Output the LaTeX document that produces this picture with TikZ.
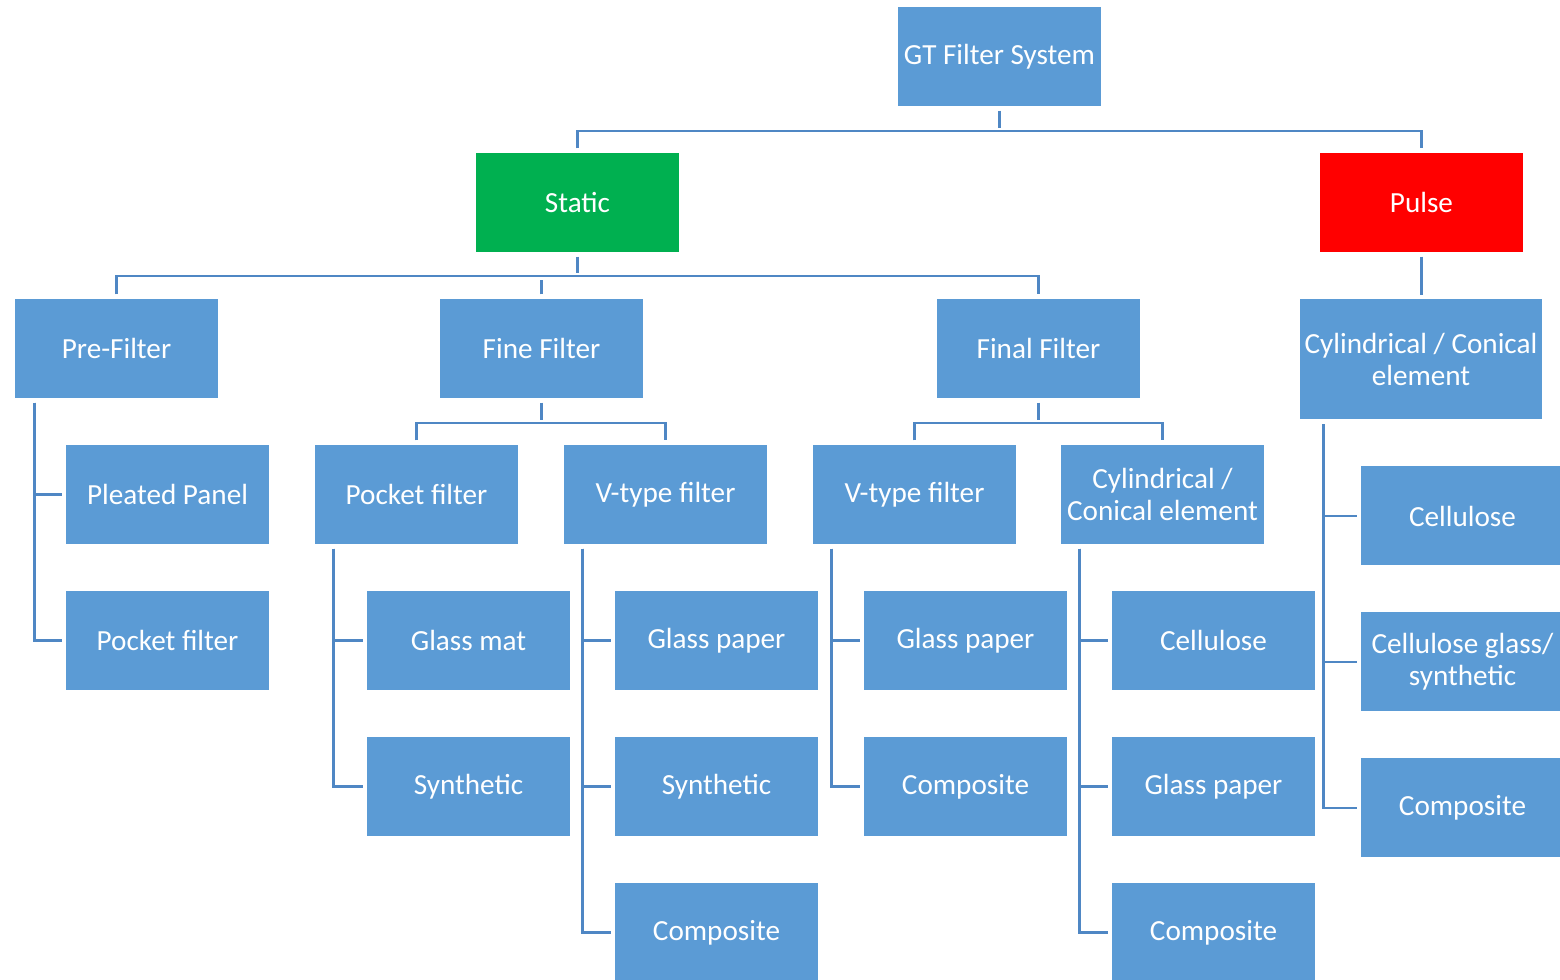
\documentclass[tikz,border=0pt]{standalone}
\usepackage{fontspec}
\setmainfont{Carlito}
\definecolor{boxblue}{HTML}{5B9BD5}
\definecolor{lineblue}{HTML}{4F87C4}
\definecolor{staticgreen}{HTML}{00B050}
\definecolor{pulsered}{HTML}{FF0000}
\begin{document}
\begin{tikzpicture}[x=0.01cm,y=-0.01cm,
  box/.style={fill=boxblue,draw=white,line width=0.3pt,text=white,minimum width=2.03cm,
    minimum height=1cm,align=center,inner sep=0pt,font=\fontsize{8.3}{9.2}\selectfont},
  link/.style={draw=lineblue,line width=0.022cm,shorten <=0.035cm,shorten >=0.035cm}]
  \useasboundingbox (0,0) rectangle (1560,980);
  % top levels
  \node[box] (gt) at (999.5,56.5) {GT Filter System};
  \node[box,fill=staticgreen] (static) at (577.5,202.5) {Static};
  \node[box,fill=pulsered] (pulse) at (1421.5,202.5) {Pulse};
  \node[box] (pre) at (116.5,348.5) {Pre-Filter};
  \node[box] (fine) at (541.5,348.5) {Fine Filter};
  \node[box] (final) at (1038.5,348.5) {Final Filter};
  \node[box,minimum width=2.42cm,minimum height=1.21cm] (cylP) at (1421,359.5) {Cylindrical / Conical\\element};
  % filter types
  \node[box] (pleated) at (167.5,494.5) {Pleated Panel};
  \node[box] (pocketA) at (167.5,640.5) {Pocket filter};
  \node[box] (pocketB) at (416.5,494.5) {Pocket filter};
  \node[box] (vtypeA) at (665.5,494.5) {V-type filter};
  \node[box] (vtypeB) at (914.5,494.5) {V-type filter};
  \node[box] (cylF) at (1162.5,494.5) {Cylindrical /\\Conical element};
  % media
  \node[box] (glassmat) at (468.5,640.5) {Glass mat};
  \node[box] (synA) at (468.5,786.5) {Synthetic};
  \node[box] (paperA) at (716.5,640.5) {Glass paper};
  \node[box] (synB) at (716.5,786.5) {Synthetic};
  \node[box] (compA) at (716.5,932.5) {Composite};
  \node[box] (paperB) at (965.5,640.5) {Glass paper};
  \node[box] (compB) at (965.5,786.5) {Composite};
  \node[box] (cellA) at (1213.5,640.5) {Cellulose};
  \node[box] (paperC) at (1213.5,786.5) {Glass paper};
  \node[box] (compC) at (1213.5,932.5) {Composite};
  \node[box] (cellB) at (1462.5,516) {Cellulose};
  \node[box] (cellglass) at (1462.5,662) {Cellulose glass/\\synthetic};
  \node[box] (compD) at (1462.5,808) {Composite};

  \draw[link] (gt.south) -- ++(0,24) coordinate (b0);
  \draw[link] (static.north) |- (b0) -| (pulse.north);
  \draw[link] (static.south) -- ++(0,23) coordinate (b1);
  \draw[link] (pre.north) |- (b1) -| (final.north);
  \draw[link] (fine.north) -- (fine.north |- b1);
  \draw[link] (pulse.south) -- (pulse.south |- cylP.north);
  \draw[link] (fine.south) -- ++(0,24) coordinate (b2);
  \draw[link] (pocketB.north) |- (b2) -| (vtypeA.north);
  \draw[link] (final.south) -- ++(0,24) coordinate (b3);
  \draw[link] (vtypeB.north) |- (b3) -| (cylF.north);
  % side branches
  \draw[link] ([xshift=0.2cm]pre.south west) |- (pleated.west);
  \draw[link] ([xshift=0.2cm]pre.south west) |- (pocketA.west);
  \foreach \p/\a/\b in {pocketB/glassmat/synA,vtypeA/paperA/synB,vtypeB/paperB/compB,cylF/cellA/paperC}
    {\draw[link] ([xshift=0.19cm]\p.south west) |- (\a.west);
     \draw[link] ([xshift=0.19cm]\p.south west) |- (\b.west);}
  \draw[link] ([xshift=0.19cm]vtypeA.south west) |- (compA.west);
  \draw[link] ([xshift=0.19cm]cylF.south west) |- (compC.west);
  \foreach \c in {cellB,cellglass,compD}
    \draw[link] ([xshift=0.24cm]cylP.south west) |- (\c.west);
\end{tikzpicture}
\end{document}
